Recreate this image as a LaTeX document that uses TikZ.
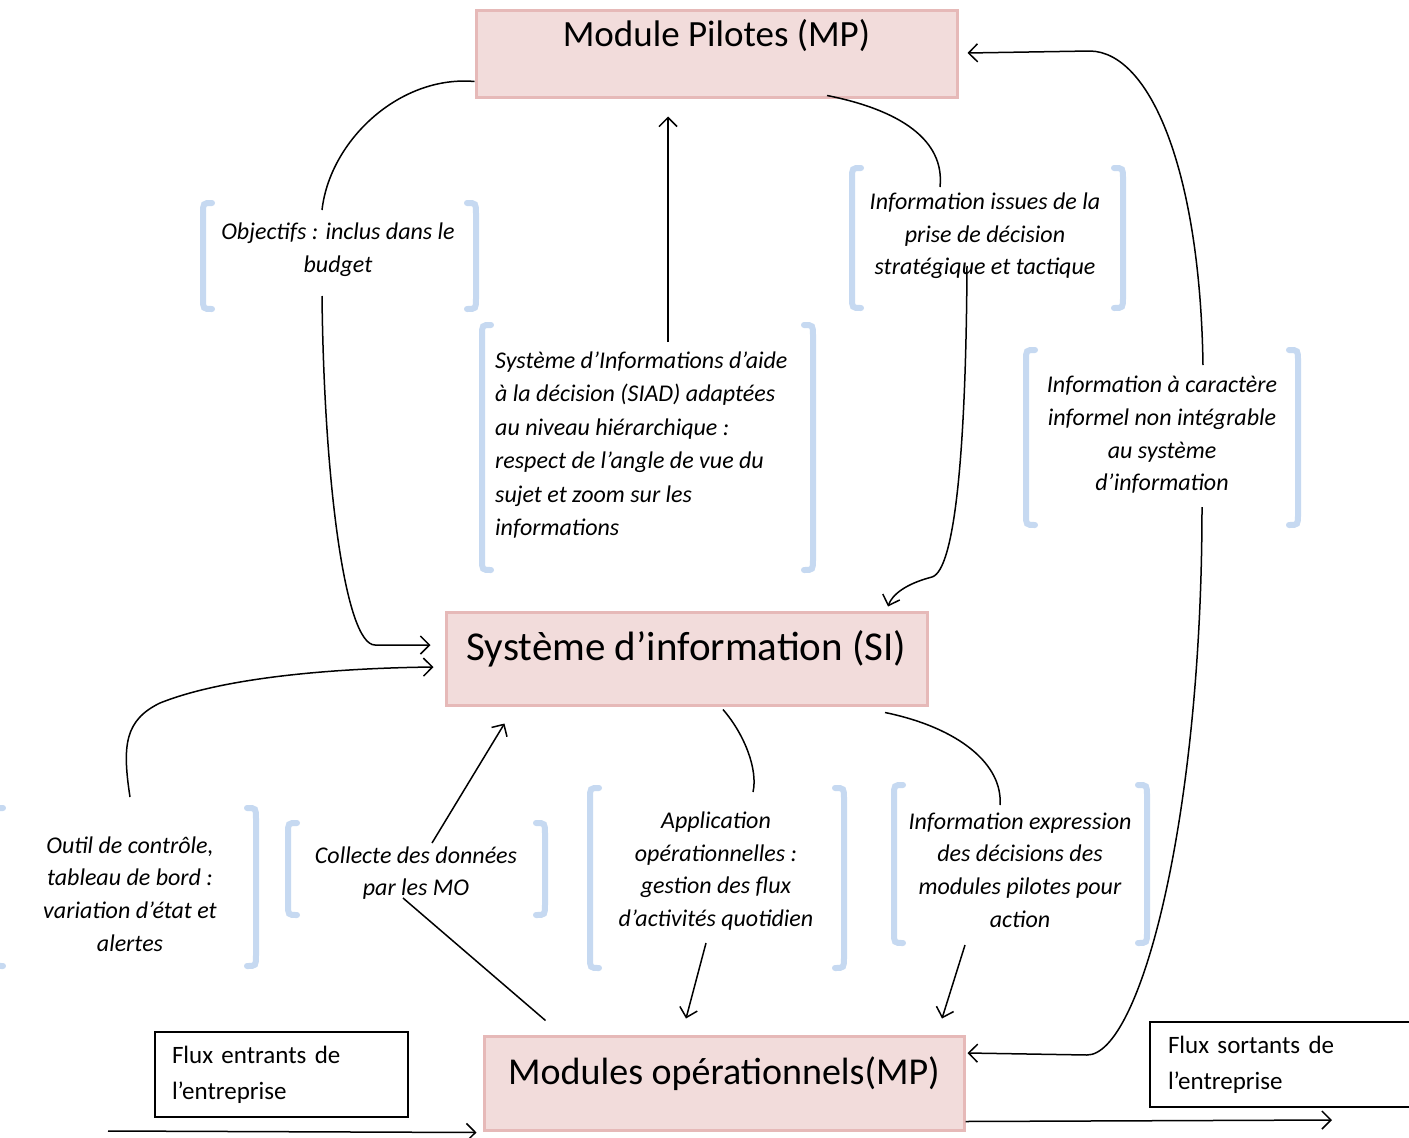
\documentclass[tikz,border=0pt]{standalone}
\usepackage{fontspec}
\setmainfont{Carlito}
\usetikzlibrary{arrows.meta}
\definecolor{boxfill}{HTML}{F2DCDB}
\definecolor{boxline}{HTML}{E6B9B8}
\definecolor{brkblue}{HTML}{C6D9F1}

% pair of rounded square brackets: left x, right x, top y, bottom y
\newcommand\bracketpair[4]{%
  \draw[brk] ({#1+9},#3) .. controls (#1,#3) .. (#1,{#3+11}) -- (#1,{#4-11}) .. controls (#1,#4) .. ({#1+9},#4);
  \draw[brk] ({#2-9},#3) .. controls (#2,#3) .. (#2,{#3+11}) -- (#2,{#4-11}) .. controls (#2,#4) .. ({#2-9},#4);}

\begin{document}
\begin{tikzpicture}[x=1pt,y=-1pt,
  pbox/.style={draw=boxline, fill=boxfill, line width=3pt, inner sep=0pt},
  boxtxt/.style={font=\fontsize{37}{44}\selectfont, inner sep=0pt},
  note/.style={font=\fontsize{24}{32.7}\selectfont\itshape, align=center, inner sep=0pt},
  flux/.style={draw, line width=1.3pt, font=\fontsize{25}{36}\selectfont, align=left, inner ysep=0pt},
  conn/.style={line width=1.5pt},
  arr/.style={conn, -{Straight Barb[length=9pt,width=18pt,line width=1.5pt]}},
  brk/.style={draw=brkblue, line width=6pt, line cap=round}
]
\useasboundingbox[fill=white] (0,0) rectangle (1409,1138);

% --- main modules ---
\node[pbox, minimum width=481pt, minimum height=87pt,
  label={[boxtxt,anchor=base,label distance=-38pt]north:Module Pilotes (MP)}] (mp) at (716.5,53.5) {};
\node[pbox, minimum width=481pt, minimum height=93pt,
  label={[boxtxt,font=\fontsize{41}{48}\selectfont,anchor=base,label distance=-50pt]north:Système d’information (SI)}] (si) at (686.5,658.5) {};
\node[pbox, minimum width=480pt, minimum height=94pt,
  label={[boxtxt,font=\fontsize{38}{45}\selectfont,anchor=base,label distance=-50pt]north:Modules opérationnels(MP)}] (mo) at (724,1083) {};

% --- bracketed notes ---
\bracketpair{203}{476}{203}{309}
\bracketpair{852}{1123}{168}{308}
\bracketpair{482}{813}{325}{570}
\bracketpair{1026}{1298}{350}{525}
\bracketpair{-6}{256}{808}{966}
\bracketpair{288}{545}{823}{915}
\bracketpair{590}{844}{788}{968}
\bracketpair{894}{1147}{785}{943}

\node[note] (tobj) at (338,250) {Objectifs : inclus dans le\\budget};
\node[note] (tinfo) at (985,236) {Information issues de la\\prise de décision\\stratégique et tactique};
\node[note, align=left, anchor=west, font=\fontsize{24}{33.4}\selectfont\itshape] (tsiad) at (495,445)
  {Système d’Informations d’aide\\à la décision (SIAD) adaptées\\au niveau hiérarchique :\\respect de l’angle de vue du\\sujet et zoom sur les\\informations};
\node[note] (tcar) at (1162,435) {Information à caractère\\informel non intégrable\\au système\\d’information};
\node[note] (toutil) at (130,894) {Outil de contrôle,\\tableau de bord :\\variation d’état et\\alertes};
\node[note] (tcoll) at (416,873) {Collecte des données\\par les MO};
\node[note] (tappl) at (716,871) {Application\\opérationnelles :\\gestion des flux\\d’activités quotidien};
\node[note] (texpr) at (1020,870) {Information expression\\des décisions des\\modules pilotes pour\\action};

% --- external flows ---
\node[flux, minimum width=253pt, minimum height=85pt, inner xsep=17pt, text width=219pt,
  text height=22pt, text depth=45pt] (tin) at (281.5,1074.5)
  {Flux entrants de\\l’entreprise};
\node[flux, minimum width=262pt, minimum height=85pt, inner xsep=18pt, text width=226pt,
  text height=22pt, text depth=45pt] (tout) at (1281,1064.5)
  {Flux sortants de\\l’entreprise};

% --- free ends of connectors at the notes ---
\coordinate (objA) at (322,210);
\coordinate (objB) at (322,296);
\coordinate (infA) at (940,187);
\coordinate (infB) at (967,266);
\coordinate (siadA) at (668,342);
\coordinate (carA) at (1203,365);
\coordinate (carB) at (1202,507);
\coordinate (outA) at (130,797);
\coordinate (collA) at (432,843);
\coordinate (collB) at (403,898);
\coordinate (appA) at (753,792);
\coordinate (appB) at (706,943);
\coordinate (expA) at (1000,805);
\coordinate (expB) at (965,945);
\coordinate (inStart) at (108,1131);
\coordinate (outEnd) at (1332,1120);

% --- connectors ---
\draw[conn] ([yshift=17pt]mp.south west) .. controls (400,75) and (330,140) .. (objA);
\draw[arr] (objB) .. controls (324,480) and (345,645) .. (375,645) -- ([xshift=-14pt,yshift=13.5pt]si.west);

\draw[arr] (siadA) -- ([xshift=-48.5pt,yshift=-18pt]mp.south);

\draw[conn] ([xshift=110.5pt,yshift=3pt]mp.south) .. controls (900,110) and (945,140) .. (infA);
\draw[arr] (infB) .. controls (966,450) and (955,570) .. (932,577) .. controls (905,584) and (892,595) .. ([xshift=201.5pt,yshift=4pt]si.north);

\draw[arr] (carA) .. controls (1200,170) and (1150,52) .. (1090,51) -- ([xshift=9pt,yshift=0.5pt]mp.east);
\draw[arr] (carB) .. controls (1202,820) and (1140,1055) .. (1087,1055) -- ([xshift=2pt,yshift=30pt]mo.east);

\draw[arr] (outA) .. controls (122,745) and (125,720) .. (160,703) .. controls (230,675) and (350,668) .. ([xshift=-11pt,yshift=-8.5pt]si.west);

\draw[conn] ([xshift=63pt,yshift=14pt]mo.north west) -- (collB);
\draw[arr] (collA) -- ([xshift=60pt,yshift=-17pt]si.south west);

\draw[conn] ([xshift=36.5pt,yshift=-3pt]si.south) .. controls (745,735) and (758,770) .. (appA);
\draw[arr] (appB) -- ([xshift=-38pt,yshift=16pt]mo.north);

\draw[conn] ([xshift=198.5pt,yshift=-6pt]si.south) .. controls (960,728) and (1003,765) .. (expA);
\draw[arr] (expB) -- ([xshift=218pt,yshift=16pt]mo.north);

\draw[arr] (inStart) -- ([xshift=-6pt,yshift=-1pt]mo.south west);
\draw[arr] ([yshift=10pt]mo.south east) -- (outEnd);
\end{tikzpicture}
\end{document}
